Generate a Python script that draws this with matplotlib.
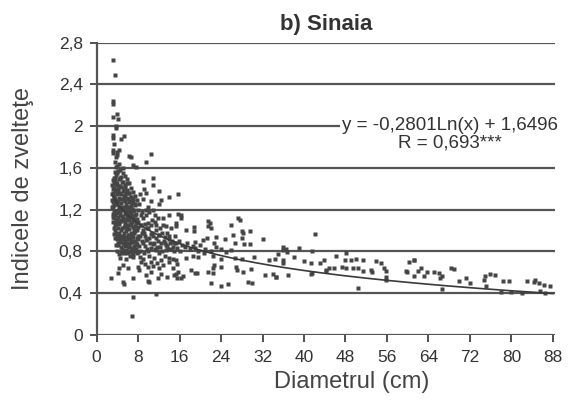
'''Scatter of slenderness index vs diameter, Sinaia (b panel)'''

import numpy as np
import matplotlib.pyplot as plt

plt.rcParams['font.family'] = ['Liberation Sans', 'DejaVu Sans']

# points, (diameter cm, slenderness index)
high_pts = [(3.1, 2.63), (3.5, 2.49), (3.1, 2.24), (3.1, 2.21), (3.9, 2.12), (3.1, 2.09),
            (4.1, 2.07), (3.8, 2.00), (3.7, 1.98), (3.1, 1.91), (3.2, 1.89), (4.75, 1.88),
            (5.3, 1.90), (3.3, 1.83), (3.1, 1.77), (3.1, 1.74), (3.9, 1.75), (4.3, 1.77),
            (6.3, 1.71), (6.6, 1.70), (10.4, 1.73), (9.6, 1.66), (3.5, 1.66), (3.7, 1.61),
            (4.3, 1.64), (5.1, 1.60), (7.0, 1.63), (7.6, 1.61), (3.7, 1.70), (3.9, 1.72)]

dense_pts = [(3.0, 1.44), (3.1, 1.36), (3.0, 1.29), (3.2, 1.22), (3.1, 1.16), (3.3, 1.50),
             (3.3, 1.41), (3.4, 1.33), (3.2, 1.27), (3.4, 1.12), (3.5, 1.05), (3.3, 0.97),
             (3.6, 1.56), (3.5, 1.47), (3.7, 1.39), (3.6, 1.30), (3.5, 1.19), (3.7, 1.09),
             (3.6, 0.93), (3.8, 0.86), (3.9, 1.62), (3.8, 1.53), (4.0, 1.45), (3.9, 1.35),
             (4.0, 1.25), (3.8, 1.17), (4.1, 1.02), (4.0, 0.95), (3.9, 0.80), (4.2, 1.57),
             (4.3, 1.49), (4.2, 1.40), (4.4, 1.31), (4.3, 1.21), (4.2, 1.13), (4.4, 1.06),
             (4.3, 0.98), (4.5, 0.89), (4.4, 0.77), (4.6, 1.58), (4.7, 1.51), (4.6, 1.43),
             (4.8, 1.35), (4.7, 1.26), (4.6, 1.18), (4.8, 1.09), (4.7, 1.00), (4.9, 0.92),
             (4.8, 0.84), (4.6, 0.74), (5.0, 1.55), (5.1, 1.46), (5.0, 1.38), (5.2, 1.29),
             (5.1, 1.20), (5.0, 1.12), (5.2, 1.03), (5.1, 0.95), (5.3, 0.87), (5.2, 0.78),
             (5.4, 1.52), (5.5, 1.42), (5.4, 1.34), (5.6, 1.25), (5.5, 1.16), (5.4, 1.08),
             (5.6, 0.99), (5.5, 0.90), (5.7, 0.81), (5.6, 0.73), (5.8, 1.49), (5.9, 1.39),
             (5.8, 1.31), (6.0, 1.22), (5.9, 1.13), (5.8, 1.05), (6.0, 0.96), (5.9, 0.88),
             (6.1, 0.79), (6.2, 1.45), (6.3, 1.36), (6.2, 1.27), (6.4, 1.18), (6.3, 1.10),
             (6.2, 1.01), (6.4, 0.93), (6.3, 0.84), (6.5, 0.76), (6.6, 1.41), (6.7, 1.32),
             (6.6, 1.23), (6.8, 1.14), (6.7, 1.06), (6.6, 0.98), (6.8, 0.89), (6.7, 0.80),
             (7.0, 1.37), (7.1, 1.28), (7.0, 1.19), (7.2, 1.11), (7.1, 1.03), (7.0, 0.94),
             (7.2, 0.85), (7.1, 0.77), (7.4, 1.33), (7.5, 1.24), (7.4, 1.15), (7.6, 1.07),
             (7.5, 0.99), (7.4, 0.90), (7.6, 0.82), (7.8, 1.29), (7.9, 1.20), (7.8, 1.11),
             (8.0, 1.03), (7.9, 0.95), (7.8, 0.87), (8.0, 0.79), (3.4, 1.24), (3.7, 1.45),
             (4.1, 1.18), (4.5, 1.36), (4.9, 1.14), (5.3, 1.33), (5.7, 1.19), (6.1, 1.17),
             (6.5, 1.05), (6.9, 1.21), (7.3, 1.00), (7.7, 0.93), (3.6, 1.00), (4.2, 0.86),
             (4.9, 0.82), (5.5, 0.85), (6.2, 0.86), (6.9, 0.83), (7.5, 0.80), (8.2, 0.85),
             (8.4, 0.95), (8.6, 1.05), (8.5, 1.15), (8.3, 0.75), (8.8, 0.90), (9.0, 1.12),
             (9.2, 0.98), (9.4, 0.85), (9.6, 1.20), (9.8, 0.92), (10.0, 1.02), (10.3, 0.88),
             (10.6, 1.10), (10.9, 0.95), (11.2, 0.82), (11.5, 1.00), (11.8, 0.90), (12.2, 0.84),
             (12.6, 0.98), (13.0, 0.90), (13.5, 0.85), (14.0, 0.95), (14.4, 0.82), (15.0, 0.88),
             (9.1, 0.78), (10.1, 0.76), (11.0, 0.74), (12.0, 0.78), (13.2, 0.76)]

dense_extra = [(3.0, 1.35), (3.0, 1.22), (3.1, 1.48), (3.1, 1.08), (3.2, 1.40), (3.2, 1.13),
               (3.3, 1.31), (3.3, 1.18), (3.4, 1.45), (3.4, 1.02), (3.5, 1.38), (3.5, 1.26),
               (3.6, 1.50), (3.6, 1.15), (3.7, 1.25), (3.7, 0.98), (3.8, 1.44), (3.8, 1.06),
               (3.9, 1.28), (3.9, 0.92), (4.0, 1.55), (4.0, 1.10), (4.1, 1.38), (4.1, 0.88),
               (4.2, 1.28), (4.2, 0.96), (4.3, 1.43), (4.3, 1.08), (4.4, 1.22), (4.4, 0.92),
               (4.5, 1.50), (4.5, 1.15), (4.6, 1.30), (4.6, 0.95), (4.7, 1.42), (4.7, 1.10),
               (4.8, 1.22), (4.8, 0.78), (4.9, 1.46), (4.9, 1.02), (5.0, 1.30), (5.0, 0.88),
               (5.1, 1.10), (5.1, 0.80), (5.2, 1.40), (5.2, 0.92), (5.3, 1.22), (5.3, 0.98),
               (5.4, 1.44), (5.4, 0.80), (5.5, 1.28), (5.5, 1.05), (5.6, 1.36), (5.6, 0.94),
               (5.7, 1.10), (5.7, 0.88), (5.8, 1.22), (5.8, 0.78), (5.9, 1.45), (5.9, 1.02),
               (6.0, 1.30), (6.0, 0.85), (6.1, 1.12), (6.1, 0.92), (6.2, 1.36), (6.2, 0.80),
               (6.3, 1.20), (6.3, 0.96), (6.4, 1.28), (6.4, 1.06), (6.5, 1.14), (6.5, 0.88),
               (6.6, 1.32), (6.6, 0.90), (6.7, 1.16), (6.8, 1.26), (6.8, 0.96), (6.9, 1.08),
               (6.9, 0.78), (7.0, 1.30), (7.0, 1.12), (7.1, 0.90), (7.2, 1.20), (7.2, 0.98),
               (7.3, 1.10), (7.3, 0.82), (7.4, 1.25), (7.5, 1.04), (7.6, 1.16), (7.6, 0.88),
               (7.7, 1.00), (7.8, 0.78), (7.9, 1.08), (8.0, 0.92)]

mid_pts = [(8.9, 1.47), (10.8, 1.50), (10.8, 1.44), (12.1, 1.38), (14.0, 1.32), (12.4, 1.29),
           (12.1, 1.25), (10.5, 1.28), (9.6, 1.36), (8.9, 1.30), (10.2, 1.18), (11.2, 1.15),
           (12.8, 1.12), (14.0, 1.15), (15.3, 1.07), (13.4, 1.04), (11.5, 1.05), (9.9, 1.07),
           (8.9, 1.00), (10.5, 0.97), (12.1, 0.96), (14.0, 0.92), (15.3, 0.88), (13.1, 0.88),
           (10.8, 0.87), (9.6, 0.91), (7.6, 0.86), (8.3, 0.80), (9.9, 0.80), (11.5, 0.81),
           (13.4, 0.81), (15.0, 0.80), (7.0, 0.75), (8.9, 0.73), (10.5, 0.70), (12.4, 0.72),
           (14.0, 0.74), (15.6, 0.68), (5.1, 0.67), (4.4, 0.64), (6.0, 0.64), (7.9, 0.65),
           (9.9, 0.65), (12.1, 0.64), (14.7, 0.64), (10.5, 0.60), (2.8, 0.54), (4.1, 0.59),
           (5.1, 0.51), (5.3, 0.49), (7.0, 0.54), (9.9, 0.52), (10.2, 0.51), (11.8, 0.54),
           (15.0, 0.57), (15.6, 0.54), (7.0, 0.36), (6.8, 0.18), (11.5, 0.39),
           (15.7, 1.35), (15.7, 1.16), (16.3, 1.12), (21.5, 1.09), (21.5, 1.04), (27.2, 1.12),
           (26.0, 1.05), (18.8, 1.03), (18.8, 0.99), (17.2, 1.00), (15.4, 1.04), (26.3, 0.96),
           (28.0, 0.99), (29.5, 0.99), (32.0, 0.92), (28.0, 0.93), (24.7, 0.92), (23.0, 0.94),
           (20.5, 0.91), (19.0, 0.89), (21.2, 0.93), (22.7, 0.88), (28.5, 0.87), (29.5, 0.87),
           (26.6, 0.88), (14.7, 0.73), (15.3, 0.72), (17.3, 0.74), (18.6, 0.76), (19.5, 0.75),
           (20.8, 0.78), (22.5, 0.76), (24.0, 0.73), (26.6, 0.74), (28.0, 0.73), (30.4, 0.75),
           (33.3, 0.72), (34.5, 0.73), (22.7, 0.67), (24.0, 0.65), (22.5, 0.64), (26.9, 0.65),
           (27.0, 0.62), (28.2, 0.60), (29.8, 0.63), (18.3, 0.62), (18.9, 0.59), (19.4, 0.59),
           (15.7, 0.60), (16.7, 0.56), (16.2, 0.54), (15.4, 0.58), (21.5, 0.60), (22.5, 0.59),
           (29.2, 0.51), (30.0, 0.50), (32.4, 0.57), (34.0, 0.58), (34.6, 0.55), (22.1, 0.50),
           (24.0, 0.47), (25.3, 0.49), (21.9, 1.07), (22.0, 1.02), (27.6, 1.10), (28.3, 0.98),
           (16.2, 1.15), (16.5, 0.86), (17.0, 0.84), (17.5, 0.88), (18.0, 0.82), (18.5, 0.85),
           (19.0, 0.83), (19.5, 0.80), (20.0, 0.86), (21.0, 0.82), (22.0, 0.80), (23.0, 0.84),
           (24.0, 0.82), (25.0, 0.79), (26.0, 0.81)]

mid_extra = [(8.2, 1.25), (8.4, 1.35), (8.5, 1.05), (8.7, 0.98), (8.8, 1.18), (9.0, 0.88),
             (9.1, 1.40), (9.3, 1.06), (9.4, 0.95), (9.5, 1.15), (9.7, 0.82), (9.8, 1.02),
             (10.0, 1.22), (10.2, 0.93), (10.4, 1.05), (10.5, 0.83), (10.7, 0.98), (10.9, 1.20),
             (11.0, 0.88), (11.3, 1.08), (11.4, 0.93), (11.6, 0.84), (11.8, 1.12), (12.0, 0.96),
             (12.3, 1.02), (12.5, 0.88), (12.7, 0.80), (12.9, 1.05), (13.1, 0.94), (13.3, 0.86),
             (13.6, 0.98), (13.8, 0.82), (14.1, 0.88), (14.3, 1.02), (14.6, 0.90), (14.8, 0.84),
             (15.2, 0.95), (15.5, 0.83), (15.8, 0.90), (16.0, 0.80), (8.6, 0.70), (9.3, 0.68),
             (10.8, 0.66), (11.6, 0.69), (12.8, 0.67), (13.9, 0.70), (8.1, 0.62), (9.5, 0.57),
             (12.4, 0.58), (13.6, 0.55)]

tail_pts = [(42.2, 0.97), (35.9, 0.84), (35.9, 0.81), (39.0, 0.83), (41.5, 0.80), (46.2, 0.76),
            (48.1, 0.78), (50.0, 0.73), (51.3, 0.72), (49.0, 0.72), (47.9, 0.72), (53.8, 0.71),
            (54.8, 0.69), (40.0, 0.71), (41.3, 0.69), (43.0, 0.69), (43.9, 0.72), (60.3, 0.70),
            (61.2, 0.72), (35.9, 0.69), (45.8, 0.64), (44.9, 0.64), (44.2, 0.62), (47.4, 0.65),
            (48.1, 0.64), (49.4, 0.64), (50.4, 0.64), (51.3, 0.61), (52.9, 0.62), (53.2, 0.60),
            (55.4, 0.64), (55.8, 0.61), (59.6, 0.61), (59.9, 0.60), (41.5, 0.59), (41.3, 0.58),
            (36.9, 0.57), (34.6, 0.55), (44.2, 0.61), (50.5, 0.45), (55.8, 0.55), (55.8, 0.53),
            (36.5, 0.82), (36.8, 0.79), (38.0, 0.75), (36.0, 0.72), (35.0, 0.77),
            (61.3, 0.72), (62.5, 0.64), (62.0, 0.61), (63.8, 0.60), (65.1, 0.60), (66.0, 0.59),
            (66.3, 0.54), (66.7, 0.56), (63.1, 0.56), (61.2, 0.56), (68.3, 0.64), (69.9, 0.52),
            (71.2, 0.54), (72.1, 0.50), (74.7, 0.53), (75.8, 0.58), (75.2, 0.47), (78.4, 0.52),
            (79.6, 0.52), (83.1, 0.52), (84.3, 0.51), (84.6, 0.53), (86.3, 0.48), (66.7, 0.44),
            (85.6, 0.42), (69.0, 0.63), (75.0, 0.56), (76.8, 0.57), (85.3, 0.50), (87.5, 0.47),
            (86.5, 0.40), (80.0, 0.41), (78.0, 0.41), (82.0, 0.40)]

# fitted curve from the chart
coef_a = -0.2801
coef_b = 1.6496

xticks = np.arange(0, 89, 8)
yticks = [0, 0.4, 0.8, 1.2, 1.6, 2.0, 2.4, 2.8]
ytick_labels = ['0', '0,4', '0,8', '1,2', '1,6', '2', '2,4', '2,8']

fig = plt.figure(figsize=(5.75, 4.17), dpi=100)
ax = fig.add_axes([0.168, 0.197, 0.798, 0.701])

gray = '#454545'
for grp in [high_pts, dense_pts, dense_extra, mid_pts, mid_extra, tail_pts]:
    pts = np.array(grp)
    ax.plot(pts[:, 0], pts[:, 1], 's', ms=2.2, color=gray, mec='none', zorder=3)

xf = np.linspace(3, 88, 300)
ax.plot(xf, coef_a*np.log(xf) + coef_b, color='#3a3a3a', lw=1.2, zorder=4)

for yv in yticks:
    ax.axhline(yv, color='#555555', lw=1.6, zorder=1)

ax.set_xlim(0, 88.5)
ax.set_ylim(0, 2.8)
ax.set_xticks(xticks)
ax.set_yticks(yticks)
ax.set_yticklabels(ytick_labels)
for s in ['top', 'right', 'bottom']:
    ax.spines[s].set_visible(False)
ax.spines['left'].set_color('#555555')
ax.spines['left'].set_linewidth(1.6)
ax.tick_params(axis='both', labelsize=12.5, colors='#333333', length=5, width=1.2)
ax.tick_params(axis='x', pad=6)
ax.tick_params(axis='y', pad=5)

ax.text(68.1, 1.92, 'y = -0,2801Ln(x) + 1,6496\nR = 0,693***', ha='center', va='center',
        fontsize=13.5, color='#333333', linespacing=1.05, zorder=5,
        bbox=dict(facecolor='white', edgecolor='none', pad=1))

ax.set_title('b) Sinaia', fontsize=16, fontweight='bold', color='#333333', pad=9)
ax.set_xlabel('Diametrul (cm)', fontsize=17, color='#444444')
ax.set_ylabel('Indicele de zvelteţe', fontsize=17, color='#444444')
ax.xaxis.set_label_coords(0.557, -0.161)
ax.yaxis.set_label_coords(-0.16, 0.5)
ax.xaxis.label.set_va('center')
ax.yaxis.label.set_va('center')

fig.savefig('out.png', dpi=100)
